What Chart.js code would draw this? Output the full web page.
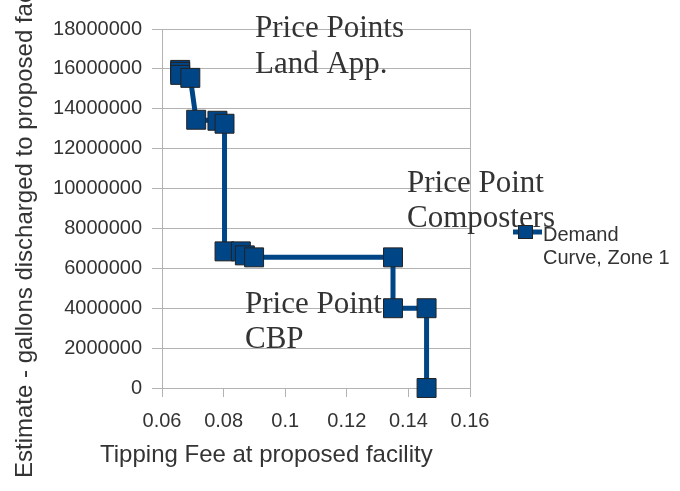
<!DOCTYPE html>
<html>
<head>
<meta charset="utf-8">
<title>Demand Curve, Zone 1</title>
<script src="https://cdn.jsdelivr.net/npm/chart.js@4/dist/chart.umd.min.js"></script>
<style>
  html, body { margin: 0; padding: 0; background: #fff; }
  #wrap { width: 680px; height: 491px; }
</style>
</head>
<body>
<div id="wrap"><canvas id="demandChart" width="680" height="491"></canvas></div>
<script>
    // data
    const fees = [0.0659, 0.0659, 0.0659, 0.0692, 0.0711, 0.0780, 0.0803, 0.0803, 0.0856, 0.0869, 0.0899, 0.1350, 0.1350, 0.1459, 0.1459];
    const gallons = [15950000, 15850000, 15700000, 15550000, 13450000, 13400000, 13250000, 6850000, 6850000, 6650000, 6550000, 6550000, 4000000, 4000000, 0];
    const xTickLabels = ['0.06', '0.08', '0.1', '0.12', '0.14', '0.16'];
    const seriesLabel = ['Demand', 'Curve, Zone 1'];
    const xTitle = 'Tipping Fee at proposed facility';
    const yTitle = 'Estimate - gallons discharged to proposed facility';
    const noteLandApp = ['Price Points', 'Land App.'];
    const noteComposters = ['Price Point', 'Composters'];
    const noteCBP = ['Price Point', 'CBP'];

    const blue = '#004586';
    const grey = '#b3b3b3';
    const textColor = '#333333';

    Chart.defaults.font.family = '"Liberation Sans", Arial, sans-serif';
    Chart.defaults.color = textColor;

    // notes, legend and axis titles drawn straight on the canvas
    const overlayText = {
        id: 'overlayText',
        beforeDatasetsDraw(chart) {
            const ctx = chart.ctx;
            ctx.save();
            ctx.fillStyle = textColor;
            ctx.font = '31px "Liberation Serif", "Times New Roman", serif';
            ctx.textAlign = 'left';
            ctx.textBaseline = 'alphabetic';
            ctx.fillText(noteLandApp[0], 255, 37);
            ctx.fillText(noteLandApp[1], 255, 73);
            ctx.fillText(noteComposters[0], 407, 192);
            ctx.fillText(noteComposters[1], 407, 227);
            ctx.fillText(noteCBP[0], 245, 313);
            ctx.fillText(noteCBP[1], 245, 348);
            ctx.restore();
        },
        afterDraw(chart) {
            const ctx = chart.ctx;
            ctx.save();
            // legend
            ctx.strokeStyle = blue;
            ctx.lineWidth = 5;
            ctx.beginPath();
            ctx.moveTo(513, 232);
            ctx.lineTo(542, 232);
            ctx.stroke();
            ctx.fillStyle = blue;
            ctx.fillRect(519, 226, 13, 12);
            ctx.strokeStyle = '#222';
            ctx.lineWidth = 1;
            ctx.strokeRect(518.5, 225.5, 14, 13);
            ctx.fillStyle = textColor;
            ctx.font = '20px "Liberation Sans", Arial, sans-serif';
            ctx.textAlign = 'left';
            ctx.textBaseline = 'alphabetic';
            ctx.fillText(seriesLabel[0], 543, 241);
            ctx.fillText(seriesLabel[1], 543, 264);
            // axis titles
            ctx.font = '24px "Liberation Sans", Arial, sans-serif';
            ctx.fillText(xTitle, 100, 462);
            ctx.translate(32, 478);
            ctx.rotate(-Math.PI / 2);
            ctx.fillText(yTitle, 0, 0);
            ctx.restore();
        }
    };

    const ctx = document.getElementById('demandChart').getContext('2d');
    new Chart(ctx, {
        type: 'scatter',
        data: {
        datasets: [{
            label: seriesLabel.join(' '),
            data: fees.map((f, i) => ({ x: f, y: gallons[i] })),
            showLine: true,
            borderColor: blue,
            borderWidth: 5,
            pointStyle: 'rect',
            pointRadius: 13.4,
            pointBackgroundColor: blue,
            pointBorderColor: '#222',
            pointBorderWidth: 1,
            clip: false
        }]
        },
        options: {
        responsive: false,
        animation: false,
        layout: { padding: { left: 0, top: 29, right: 210, bottom: 0 } },
        plugins: {
            legend: { display: false },
            tooltip: { enabled: false }
        },
        scales: {
            x: {
                type: 'linear',
                min: 0.06,
                max: 0.16,
                afterFit: (s) => { s.height = 103; },
                ticks: {
                    stepSize: 0.02,
                    padding: 12,
                    font: { size: 20 },
                    color: textColor,
                    callback: (v, i) => xTickLabels[i]
                },
                grid: {
                    color: (c) => c.index === xTickLabels.length - 1 ? grey : 'rgba(0,0,0,0)',
                    tickColor: grey,
                    tickLength: 9
                },
                border: { color: grey }
            },
            y: {
                min: 0,
                max: 18000000,
                afterFit: (s) => { s.width = 162; },
                ticks: {
                    stepSize: 2000000,
                    padding: 10,
                    font: { size: 20 },
                    color: textColor,
                    callback: (v) => String(v)
                },
                grid: { color: grey, tickColor: grey, tickLength: 10 },
                border: { color: grey }
            }
        }
        },
        plugins: [overlayText]
    });
</script>
</body>
</html>
